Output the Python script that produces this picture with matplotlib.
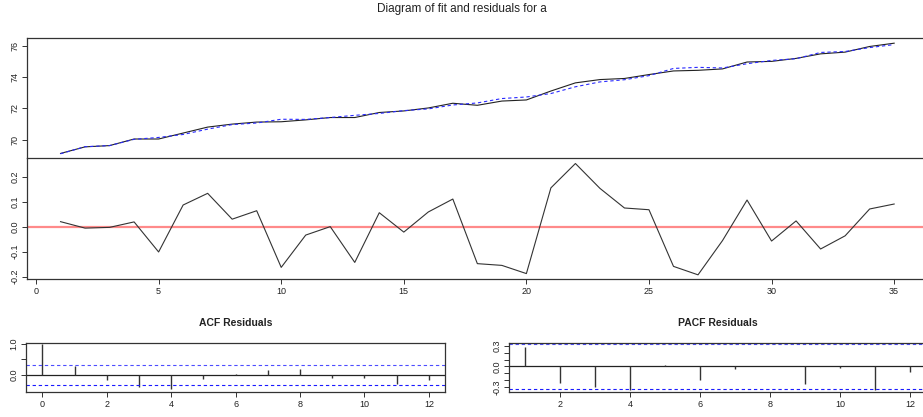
#!/usr/bin/env python
"""Fit / residual diagnostic panel: series vs fitted, residuals, ACF and PACF."""
import matplotlib
matplotlib.use("Agg")
import matplotlib.pyplot as plt

plt.rcParams["font.family"] = ["Liberation Sans", "DejaVu Sans"]

W, H = 923, 417

# time index and series
t = list(range(1, 36))
actual = [69.12, 69.54, 69.62, 70.04, 70.04, 70.42, 70.80, 70.99, 71.12, 71.14,
          71.26, 71.41, 71.41, 71.73, 71.83, 72.02, 72.32, 72.19, 72.46, 72.53,
          73.10, 73.62, 73.83, 73.90, 74.15, 74.38, 74.42, 74.51, 74.95, 74.99,
          75.18, 75.47, 75.58, 75.94, 76.15]
fitted = [69.10, 69.55, 69.62, 70.02, 70.14, 70.33, 70.67, 70.96, 71.06, 71.30,
          71.29, 71.41, 71.55, 71.67, 71.85, 71.96, 72.21, 72.34, 72.62, 72.72,
          72.94, 73.37, 73.68, 73.82, 74.08, 74.54, 74.61, 74.57, 74.84, 75.05,
          75.16, 75.56, 75.62, 75.87, 76.06]
resid = [0.021, -0.005, -0.002, 0.020, -0.101, 0.088, 0.135, 0.031, 0.065, -0.163,
         -0.033, 0.001, -0.143, 0.057, -0.021, 0.060, 0.112, -0.148, -0.155, -0.188,
         0.157, 0.255, 0.155, 0.076, 0.069, -0.159, -0.193, -0.055, 0.108, -0.057,
         0.024, -0.089, -0.036, 0.072, 0.092]

# correlograms
acf_lags = list(range(0, 13))
acf_vals = [1.0, 0.30, -0.16, -0.37, -0.45, -0.11, 0.05, 0.17, 0.21, -0.10,
            -0.09, -0.29, -0.16]
pacf_lags = list(range(1, 13))
pacf_vals = [0.282, -0.233, -0.297, -0.336, 0.022, -0.199, -0.042, 0.012, -0.248,
             -0.022, -0.336, -0.081]
conf = 0.331

title = "Diagram of fit and residuals for a"

DASH = (0, (3, 2.5))


def px_axes(fig, left, top, right, bottom):
    return fig.add_axes([left / W, 1 - bottom / H, (right - left) / W, (bottom - top) / H])


def style(ax):
    for s in ax.spines.values():
        s.set_color("#333333")
        s.set_linewidth(0.9)
    ax.tick_params(direction="out", length=3.5, width=0.7, colors="#333333",
                   labelsize=6.5, labelcolor="#222222", pad=2)
    for lab in ax.get_yticklabels():
        lab.set_rotation(90)
        lab.set_va("center")


fig = plt.figure(figsize=(W / 100, H / 100), dpi=100)
fig.text(0.5, 1 - 9 / H, title, ha="center", va="center", fontsize=8.5, color="#222222")

# top: series and fit
ax1 = px_axes(fig, 27.2, 37.7, 927.5, 158.3)
ax1.plot(t, actual, color="#222222", lw=0.8)
ax1.plot(t, fitted, color="#2a2aff", lw=0.8, ls=DASH)
ax1.set_xlim(-0.36, 36.36)
ax1.set_ylim(68.81, 76.5)
ax1.set_yticks([70, 72, 74, 76])
ax1.set_xticks([])
style(ax1)
ax1.spines["bottom"].set_visible(False)

# middle: residuals
ax2 = px_axes(fig, 27.2, 158.3, 927.5, 279.3)
ax2.axhline(0, color="#ff8a8a", lw=1.6)
ax2.plot(t, resid, color="#333333", lw=0.8)
ax2.set_xlim(-0.36, 36.36)
ax2.set_ylim(-0.211, 0.276)
ax2.set_yticks([-0.2, -0.1, 0.0, 0.1, 0.2])
ax2.set_yticklabels(["-0.2", "-0.1", "0.0", "0.1", "0.2"])
ax2.set_xticks([0, 5, 10, 15, 20, 25, 30, 35])
style(ax2)

# ACF
ax3 = px_axes(fig, 26.3, 342.5, 445, 392)
ax3.axhline(0, color="#222222", lw=0.9)
ax3.vlines(acf_lags, 0, acf_vals, color="#333333", lw=1.0)
ax3.axhline(conf, color="#4d4dff", lw=0.8, ls=DASH)
ax3.axhline(-conf, color="#1a1aff", lw=0.8, ls=DASH)
ax3.set_xlim(-0.5, 12.5)
ax3.set_ylim(-0.54, 1.04)
ax3.set_yticks([0.0, 0.5, 1.0])
ax3.set_yticklabels(["0.0", "", "1.0"])
ax3.set_xticks([0, 2, 4, 6, 8, 10, 12])
style(ax3)
ax3.set_title("ACF Residuals", fontsize=7.5, fontweight="bold", pad=12, color="#222222")

# PACF
ax4 = px_axes(fig, 509.3, 342.5, 926.5, 392)
ax4.axhline(0, color="#222222", lw=0.9)
ax4.vlines(pacf_lags, 0, pacf_vals, color="#333333", lw=1.0)
ax4.axhline(conf, color="#4d4dff", lw=0.8, ls=DASH)
ax4.axhline(-conf, color="#1a1aff", lw=0.8, ls=DASH)
ax4.set_xlim(0.54, 12.46)
ax4.set_ylim(-0.37, 0.346)
ax4.set_yticks([-0.3, -0.2, -0.1, 0.0, 0.1, 0.2, 0.3])
ax4.set_yticklabels(["-0.3", "", "", "0.0", "", "", "0.3"])
ax4.set_xticks([2, 4, 6, 8, 10, 12])
style(ax4)
ax4.set_title("PACF Residuals", fontsize=7.5, fontweight="bold", pad=12, color="#222222")
ax4.title.set_x((718 - 509.3) / (926.5 - 509.3))

fig.savefig("out.png", dpi=100)
